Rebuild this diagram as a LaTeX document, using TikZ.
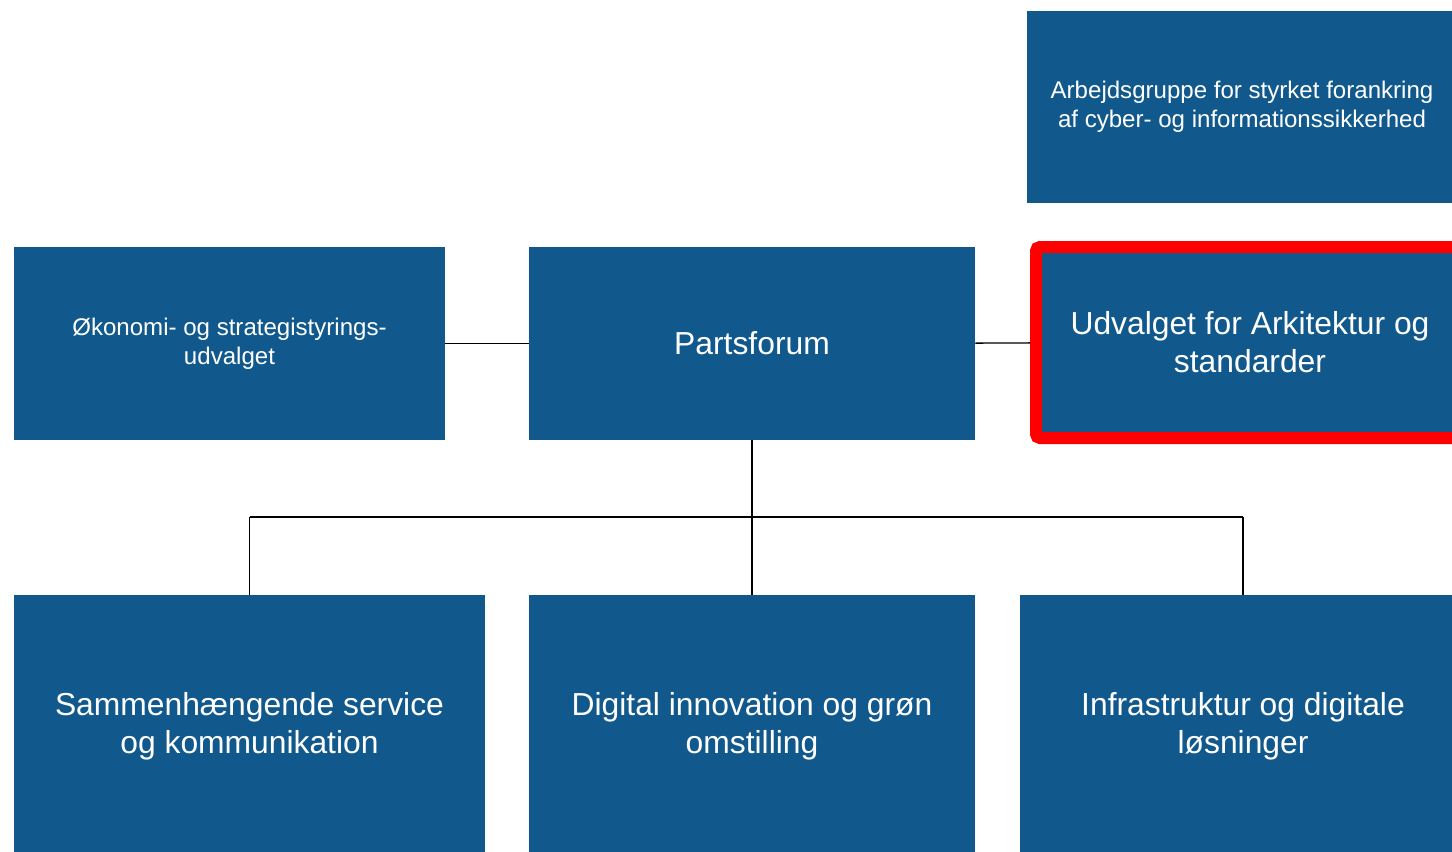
\documentclass[tikz,border=0pt]{standalone}
\usepackage{fontspec}
\setmainfont{Liberation Sans}
\usepackage{tikz}
\definecolor{boxblue}{RGB}{17,89,140}
\definecolor{markred}{RGB}{255,0,0}
\tikzset{
  unit/.style={fill=boxblue, text=white, align=center, inner sep=0pt},
  bigunit/.style={unit, font=\fontsize{18.1}{21.6}\selectfont},
  smallunit/.style={unit, font=\fontsize{13.7}{16.5}\selectfont},
  link/.style={draw=black, line width=0.8pt}
}

\begin{document}
\begin{tikzpicture}
            \useasboundingbox (0,0) rectangle (29.04,-17.02);
            \clip (0,0) rectangle (29.04,-17.02);

            \node[smallunit, minimum width=8.6cm, minimum height=3.84cm] (arbejd) at (24.84,-2.14) {Arbejdsgruppe for styrket forankring\\af cyber- og informationssikkerhed};

            \node[smallunit, minimum width=8.62cm, minimum height=3.86cm] (oekonomi) at (4.59,-6.87) {Økonomi- og strategistyrings-\\udvalget};
            \node[bigunit, minimum width=8.92cm, minimum height=3.86cm] (parts) at (15.04,-6.87) {Partsforum};
            \node[bigunit, draw=markred, line width=0.24cm, rounded corners=0.08cm, minimum width=8.56cm, minimum height=3.82cm] (udvalg) at (25.0,-6.85) {Udvalget for Arkitektur og\\standarder};

            \node[bigunit, minimum width=9.42cm, minimum height=5.24cm] (sammen) at (4.99,-14.52) {Sammenhængende service\\og kommunikation};
            \node[bigunit, minimum width=8.92cm, minimum height=5.24cm] (digital) at (15.04,-14.52) {Digital innovation og grøn\\omstilling};
            \node[bigunit, minimum width=8.92cm, minimum height=5.24cm] (infra) at (24.86,-14.52) {Infrastruktur og digitale\\løsninger};

            % side links
            \draw[link] (oekonomi) -- (parts);
            \draw[link] (parts) -- (udvalg);

            % tree below Partsforum
            \coordinate (bus) at (15.04,-10.34);
            \draw[link] (parts.south) -- (bus);
            \draw[link] (sammen.north |- bus) -- (infra.north |- bus);
            \draw[link] (sammen.north |- bus) -- (sammen.north);
            \draw[link] (bus) -- (digital.north);
            \draw[link] (infra.north |- bus) -- (infra.north);
        \end{tikzpicture}
\end{document}
